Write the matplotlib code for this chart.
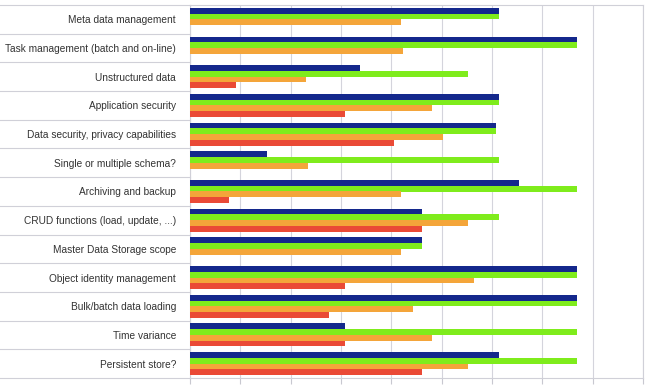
import matplotlib
matplotlib.use("Agg")
import matplotlib.pyplot as plt
import matplotlib.transforms as mtransforms
import numpy as np

categories = [
    "Meta data management",
    "Task management (batch and on-line)",
    "Unstructured data",
    "Application security",
    "Data security, privacy capabilities",
    "Single or multiple schema?",
    "Archiving and backup",
    "CRUD functions (load, update, ...)",
    "Master Data Storage scope",
    "Object identity management",
    "Bulk/batch data loading",
    "Time variance",
    "Persistent store?",
]

series_navy = [4, 5, 2.2, 4, 3.96, 1, 4.25, 3, 3, 5, 5, 2, 4]
series_green = [4, 5, 3.6, 4, 3.96, 4, 5, 4, 3, 5, 5, 5, 5]
series_orange = [2.73, 2.76, 1.5, 3.13, 3.27, 1.53, 2.73, 3.6, 2.73, 3.67, 2.88, 3.13, 3.6]
series_red = [0, 0, 0.6, 2, 2.64, 0, 0.5, 3, 0, 2, 1.8, 2, 3]

series = [series_navy, series_green, series_orange, series_red]
colors = ["#14288c", "#7fec1c", "#f4a53a", "#ea4a36"]

grid_step = 5 / 7.68
n_grid = 9

plt.rcParams['font.family'] = ['Liberation Sans', 'DejaVu Sans']

fig = plt.figure(figsize=(6.49, 3.89), dpi=100)
left, right = 190 / 649, 643 / 649
top, bottom = 1 - 5 / 389, 1 - 378 / 389
ax = fig.add_axes([left, bottom, right - left, top - bottom])

y = np.arange(len(categories))
h = 0.2
for k, (vals, c) in enumerate(zip(series, colors)):
    ax.barh(y + (k - 1.5) * h, vals, height=h, color=c, zorder=3, linewidth=0)

ax.set_xlim(0, n_grid * grid_step)
ax.set_ylim(len(categories) - 0.5, -0.5)
ax.set_xticks([i * grid_step for i in range(n_grid + 1)])
ax.set_yticks(y)
ax.set_yticklabels(categories, fontsize=7.3, color="#333333")
ax.tick_params(axis='y', length=0, pad=10)
ax.tick_params(axis='x', length=4, color="#c8c8d0", labelbottom=False)
ax.grid(axis='x', color="#d4d4dc", linewidth=0.8, zorder=0)
for s in ax.spines.values():
    s.set_color("#d0d0d8")
    s.set_linewidth(0.8)

trans = mtransforms.blended_transform_factory(fig.transFigure, ax.transData)
for b in np.arange(len(categories) + 1) - 0.5:
    ax.plot([0, left], [b, b], transform=trans, color="#d0d0d8", lw=0.8, clip_on=False)

fig.savefig("out.png", dpi=100)
